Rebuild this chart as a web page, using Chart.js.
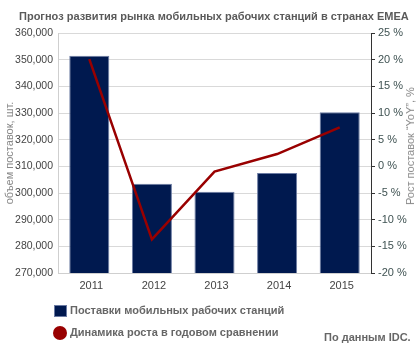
<!DOCTYPE html>
<html>
<head>
<meta charset="utf-8">
<script src="https://cdn.jsdelivr.net/npm/chart.js@4/dist/chart.umd.min.js"></script>
<style>
  html, body { margin: 0; padding: 0; background: #fff; }
  #wrap { position: relative; width: 420px; height: 352px; font-family: "Liberation Sans", Arial, sans-serif; }
  #c { position: absolute; left: 0; top: 0; }
  .t { position: absolute; white-space: nowrap; font-weight: bold; font-size: 11px; color: #666; }
  #title { left: 19px; top: 10px; color: #5a5a5a; }
  #ytitle2 { position: absolute; white-space: nowrap; font-size: 11px; color: #888; left: 410px; top: 146px; transform: translate(-50%, -50%) rotate(-90deg); }
  .sq { position: absolute; left: 54px; top: 305px; width: 11px; height: 10px; background: #00194f; border: 1px solid #6b7ba3; }
  .dot { position: absolute; left: 53px; top: 326px; width: 14px; height: 14px; border-radius: 50%; background: #990000; }
</style>
</head>
<body>
<div id="wrap">
  <canvas id="c" width="420" height="352"></canvas>
  <div class="t" id="title">Прогноз развития рынка мобильных рабочих станций в странах EMEA</div>
  <div id="ytitle2">Рост поставок “YoY”, %</div>
  <div class="sq"></div>
  <div class="t" style="left:70px; top:304px;">Поставки мобильных рабочих станций</div>
  <div class="dot"></div>
  <div class="t" style="left:70px; top:326px;">Динамика роста в годовом сравнении</div>
  <div class="t" style="left:324px; top:331px;">По данным IDC.</div>
</div>
<script>
const years = ['2011', '2012', '2013', '2014', '2015'];
const shipments = [351500, 303500, 300500, 307500, 330300];
const yoyGrowth = [20.1, -13.7, -1.0, 2.3, 7.3];
const shipmentsLabel = 'Поставки мобильных рабочих станций';
const growthLabel = 'Динамика роста в годовом сравнении';
const leftAxisTitle = 'объем поставок, шт.';

const FONT = '"Liberation Sans", Arial, sans-serif';

new Chart(document.getElementById('c'), {
  type: 'bar',
  data: {
    labels: years,
    datasets: [
      {
        type: 'line',
        label: growthLabel,
        data: yoyGrowth,
        yAxisID: 'y2',
        borderColor: '#990000',
        borderWidth: 2.5,
        pointRadius: 0,
        tension: 0,
        order: 0
      },
      {
        type: 'bar',
        label: shipmentsLabel,
        data: shipments,
        yAxisID: 'y',
        backgroundColor: '#00194f',
        borderColor: '#6b7ba3',
        borderWidth: 1,
        barPercentage: 0.64,
        categoryPercentage: 1,
        order: 1
      }
    ]
  },
  options: {
    responsive: false,
    animation: false,
    devicePixelRatio: 1,
    layout: { padding: { top: 33, bottom: 52, left: 0, right: 0 } },
    plugins: { legend: { display: false }, tooltip: { enabled: false }, title: { display: false } },
    scales: {
      x: {
        grid: { display: false, drawTicks: false },
        border: { display: true, color: '#cfcfcf' },
        ticks: { color: '#444', font: { family: FONT, size: 11 }, padding: 6, labelOffset: 2, maxRotation: 0 },
        afterFit: s => { s.height = 27; }
      },
      y: {
        position: 'left',
        min: 270000,
        max: 360000,
        grid: { color: '#d9d9d9', drawTicks: false },
        border: { display: true, color: '#cfcfcf' },
        ticks: {
          stepSize: 10000,
          color: '#444',
          padding: 5,
          font: { family: FONT, size: 10.5 },
          callback: v => v.toLocaleString('en-US')
        },
        title: { display: true, text: leftAxisTitle, color: '#888', font: { family: FONT, size: 11 }, padding: { top: 3, bottom: 0 } },
        afterFit: s => { s.width = 58; }
      },
      y2: {
        position: 'right',
        min: -20,
        max: 25,
        grid: { drawOnChartArea: false, color: '#333', tickLength: 4 },
        border: { display: true, color: '#333' },
        ticks: {
          stepSize: 5,
          color: '#3f5252',
          padding: 3,
          font: { family: FONT, size: 11 },
          callback: v => v + ' %'
        },
        afterFit: s => { s.width = 49; }
      }
    }
  }
});
</script>
</body>
</html>
